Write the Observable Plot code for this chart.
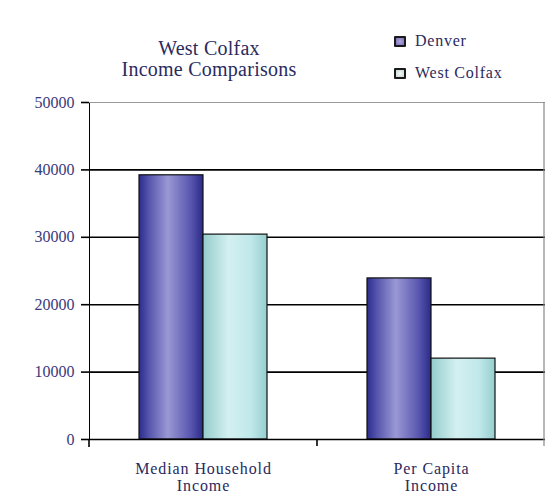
<!DOCTYPE html>
<html>
<head>
<meta charset="utf-8">
<script src="https://cdn.jsdelivr.net/npm/d3@7"></script>
<script src="https://cdn.jsdelivr.net/npm/@observablehq/plot@0.6"></script>
<style>
  html, body { margin: 0; padding: 0; background: #fff; }
  #wrap { position: relative; width: 550px; height: 498px; font-family: "Liberation Serif", serif; color: #2a2a5e; }
  #title { position: absolute; left: 109px; top: 38px; width: 200px; text-align: center; font-size: 20px; line-height: 21px; letter-spacing: 0.25px; white-space: nowrap; }
  .leg { position: absolute; left: 394px; height: 16px; font-size: 16px; line-height: 16px; letter-spacing: 0.75px; display: flex; align-items: center; white-space: nowrap; }
  .sw { box-sizing: border-box; width: 12px; height: 11px; border: 2px solid #1a1a1a; border-radius: 1px; margin-right: 9px; }
  #plot { position: absolute; left: 0; top: 0; }
</style>
</head>
<body>
<div id="wrap">
  <div id="plot"></div>
  <div id="title">West Colfax<br>Income Comparisons</div>
  <div class="leg" style="top:33px"><div class="sw" style="background:radial-gradient(#b0a8dc,#7a70b8)"></div>Denver</div>
  <div class="leg" style="top:65px"><div class="sw" style="background:radial-gradient(#f4f8f8,#c8d4d4)"></div>West Colfax</div>
</div>
<script>
const categories = ["Median Household\nIncome", "Per Capita\nIncome"];
const series = ["Denver", "West Colfax"];
const denverValues = [39200, 23900];
const westColfaxValues = [30400, 12000];
const yTicks = [0, 10000, 20000, 30000, 40000, 50000];
const gridValues = [10000, 20000, 30000, 40000];
const topValue = [50000];

const data = [];
categories.forEach((c, i) => {
  data.push({category: c, series: series[0], value: denverValues[i]});
  data.push({category: c, series: series[1], value: westColfaxValues[i]});
});

const chart = Plot.plot({
  width: 550,
  height: 498,
  marginTop: 102,
  marginBottom: 59,
  marginLeft: 88,
  marginRight: 5,
  style: {fontFamily: "Liberation Serif, serif", background: "transparent", color: "#000"},
  fx: {domain: categories, padding: 0, label: null},
  x: {domain: series, axis: null, paddingInner: 0, paddingOuter: 0.758},
  y: {domain: [0, 50000], ticks: yTicks, tickSize: 8, tickPadding: 7, label: null, tickFormat: d => String(d), line: true},
  color: {domain: series, range: ["url(#gDenver)", "url(#gWest)"]},
  marks: [
    Plot.ruleY(topValue, {stroke: "#9a9a9a", strokeWidth: 1}),
    Plot.ruleY(gridValues, {stroke: "#000", strokeWidth: 1.6}),
    Plot.barY(data, {fx: "category", x: "series", y: "value", fill: "series", stroke: "#111", strokeWidth: 1.2}),
    Plot.ruleY([0], {stroke: "#000", strokeWidth: 1.6}),
    Plot.axisFx({anchor: "bottom", label: null, tickSize: 0, tickPadding: 23, lineHeight: 1.05, fontSize: 16})
  ]
});

const svg = d3.select(chart);
const defs = svg.insert("defs", ":first-child");
function grad(id, stops) {
  const g = defs.append("linearGradient").attr("id", id).attr("x1", "0").attr("x2", "1").attr("y1", "0").attr("y2", "0");
  stops.forEach(([o, c]) => g.append("stop").attr("offset", o).attr("stop-color", c));
}
grad("gDenver", [[0, "#2c2c8c"], [0.15, "#5454ac"], [0.45, "#9a98d4"], [0.8, "#5a58b0"], [1, "#2a2a88"]]);
grad("gWest", [[0, "#94cccc"], [0.4, "#d4f0f0"], [0.75, "#c0e8ea"], [1, "#96cece"]]);

// styling of axes
svg.selectAll('g[aria-label="y-axis tick label"]').attr("font-size", 16).attr("fill", "#3a3a7a");
svg.selectAll('g[aria-label="fx-axis tick label"]').attr("font-size", 16).attr("letter-spacing", 0.9).attr("fill", "#2a2a5e");
svg.selectAll('g[aria-label="y-axis tick"]').attr("stroke", "#000").attr("stroke-width", 1.6);
svg.selectAll('g[aria-label="y-axis line"]').attr("stroke", "#000").attr("stroke-width", 1.6);

// category boundary tick, axis extension and right border from scales
const fx = chart.scale("fx");
const y = chart.scale("y");
const y0 = y.apply(0), yTop = y.apply(50000);
const boundary = fx.apply(categories[1]);
const leftEdge = fx.apply(categories[0]);
const rightEdge = fx.apply(categories[1]) + fx.bandwidth;
svg.append("line").attr("x1", boundary).attr("x2", boundary).attr("y1", y0).attr("y2", y0 + 7).attr("stroke", "#000").attr("stroke-width", 1.6);
svg.append("line").attr("x1", rightEdge - 1).attr("x2", rightEdge - 1).attr("y1", yTop).attr("y2", y0 + 7).attr("stroke", "#888").attr("stroke-width", 1.2);
svg.append("line").attr("x1", leftEdge).attr("x2", leftEdge).attr("y1", y0).attr("y2", y0 + 8).attr("stroke", "#000").attr("stroke-width", 1.6);

document.getElementById("plot").appendChild(chart);
</script>
</body>
</html>
